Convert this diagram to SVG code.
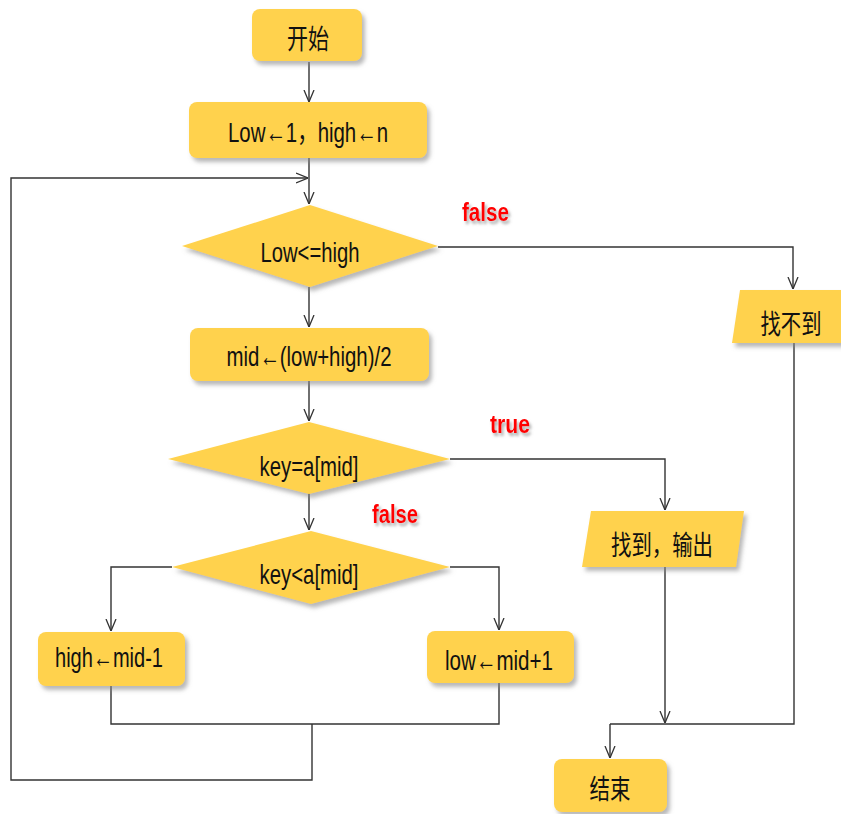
<svg xmlns="http://www.w3.org/2000/svg" width="841" height="814" viewBox="0 0 841 814">
<defs>
<filter id="sh" x="-10%" y="-10%" width="130%" height="140%">
<feDropShadow dx="3" dy="4" stdDeviation="2" flood-color="#888" flood-opacity="0.6"/>
</filter>
<filter id="tsh" x="-20%" y="-20%" width="150%" height="160%">
<feDropShadow dx="2" dy="3" stdDeviation="1.5" flood-color="#777" flood-opacity="0.6"/>
</filter>
<marker id="arr" viewBox="0 0 12 12" refX="12" refY="6" markerWidth="12" markerHeight="12" markerUnits="userSpaceOnUse" orient="auto">
<path d="M0,1 L12,6 L0,11" fill="none" stroke="#333" stroke-width="1.3"/>
</marker>
<style>
.n{fill:#FFD24D;filter:url(#sh)}
.t{font-family:"Liberation Sans",Arial,"Noto Sans CJK SC",sans-serif;font-size:28px;fill:#111}
.c{font-family:"Liberation Sans","Noto Sans CJK SC",sans-serif;font-size:27px;fill:#111}
.r{font-family:"Liberation Sans",Arial,sans-serif;font-size:26px;font-weight:bold;fill:#F00;filter:url(#tsh)}
.e{fill:none;stroke:#333;stroke-width:1.4}
.a{marker-end:url(#arr)}
</style>
</defs>
<rect width="841" height="814" fill="#fff"/>
<g id="connectors">
<path class="e a" d="M309,62 V102"/>
<path class="e a" d="M309,158 V204"/>
<path class="e a" d="M312,724 V780 H11 V178 H308"/>
<path class="e a" d="M309,287 V327"/>
<path class="e a" d="M438,247 H793 V289"/>
<path class="e a" d="M309,381 V421"/>
<path class="e a" d="M450,459 H665 V510"/>
<path class="e a" d="M309,493 V530"/>
<path class="e a" d="M172,567 H111 V631"/>
<path class="e a" d="M450,567 H499 V630"/>
<path class="e" d="M111,686 V724 H499 V683"/>
<path class="e a" d="M665,567 V723"/>
<path class="e" d="M794,343 V724 H610"/>
<path class="e a" d="M610,724 V758"/>
</g>
<g id="start">
<rect class="n" x="252" y="9" width="110" height="52" rx="8"/>
<text class="c" x="308" y="49" text-anchor="middle" textLength="42" lengthAdjust="spacingAndGlyphs">开始</text>
</g>
<g id="init">
<rect class="n" x="189" y="102" width="238" height="56" rx="8"/>
<text class="t" x="308" y="142" text-anchor="middle" textLength="160" lengthAdjust="spacingAndGlyphs">Low←1，high←n</text>
</g>
<g id="cond1">
<polygon class="n" points="310,205 438,246 310,287 182,246"/>
<text class="t" x="310" y="262" text-anchor="middle" textLength="99" lengthAdjust="spacingAndGlyphs">Low&lt;=high</text>
</g>
<g id="notfound">
<polygon class="n" points="740,290 852,290 844,343 732,343"/>
<text class="c" x="791" y="334" text-anchor="middle" textLength="61" lengthAdjust="spacingAndGlyphs">找不到</text>
</g>
<g id="mid">
<rect class="n" x="190" y="328" width="239" height="53" rx="8"/>
<text class="t" x="309" y="366" text-anchor="middle" textLength="165" lengthAdjust="spacingAndGlyphs">mid←(low+high)/2</text>
</g>
<g id="cond2">
<polygon class="n" points="309,422 450,459 309,494 168,459"/>
<text class="t" x="309" y="476" text-anchor="middle" textLength="99" lengthAdjust="spacingAndGlyphs">key=a[mid]</text>
</g>
<g id="found">
<polygon class="n" points="591,511 744,511 736,567 582,567"/>
<text class="c" x="662" y="555" text-anchor="middle" textLength="102" lengthAdjust="spacingAndGlyphs">找到，输出</text>
</g>
<g id="cond3">
<polygon class="n" points="311,531 450,567 311,604 172,567"/>
<text class="t" x="309" y="584" text-anchor="middle" textLength="99" lengthAdjust="spacingAndGlyphs">key&lt;a[mid]</text>
</g>
<g id="high">
<rect class="n" x="38" y="632" width="147" height="54" rx="8"/>
<text class="t" x="109" y="667" text-anchor="middle" textLength="108" lengthAdjust="spacingAndGlyphs">high←mid-1</text>
</g>
<g id="low">
<rect class="n" x="427" y="631" width="147" height="52" rx="8"/>
<text class="t" x="499" y="670" text-anchor="middle" textLength="108" lengthAdjust="spacingAndGlyphs">low←mid+1</text>
</g>
<g id="end">
<rect class="n" x="554" y="759" width="113" height="53" rx="8"/>
<text class="c" x="610" y="799" text-anchor="middle" textLength="41" lengthAdjust="spacingAndGlyphs">结束</text>
</g>
<g id="labels">
<text class="r" x="462" y="221" textLength="47" lengthAdjust="spacingAndGlyphs">false</text>
<text class="r" x="490" y="433" textLength="40" lengthAdjust="spacingAndGlyphs">true</text>
<text class="r" x="372" y="523" textLength="46" lengthAdjust="spacingAndGlyphs">false</text>
</g>
</svg>
